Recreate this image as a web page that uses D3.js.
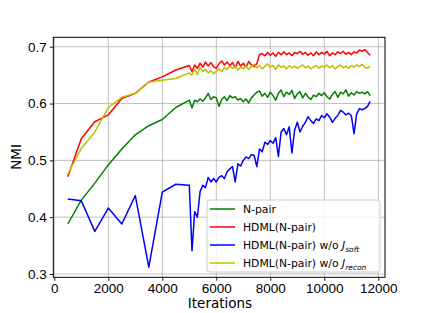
<!DOCTYPE html>
<html lang="en">
  <head>
    <meta charset="UTF-8" />
    <title>NMI vs Iterations</title>
    <style>
      body { margin: 0; background: #fff; }
      svg { font-family: 'DejaVu Sans', sans-serif; }
      .axis path { stroke: #000; stroke-width: 1; }
      .axis line { stroke: #000; stroke-width: 0.9; }
      .axis text { font-size: 13.5px; fill: #000; }
      .grid line { stroke: #b0b0b0; stroke-width: 0.8; }
    </style>
    <script src="https://d3js.org/d3.v7.min.js"></script>
  </head>
  <body>
    <svg width="428" height="313"></svg>
    <script>
      // iterations: every 500 up to 5000, then every 100
      var iterations = [500, 1000, 1500, 2000, 2500, 3000, 3500, 4000, 4500, 5000,
        5100, 5200, 5300, 5400, 5500, 5600, 5700, 5800, 5900, 6000,
        6100, 6200, 6300, 6400, 6500, 6600, 6700, 6800, 6900, 7000,
        7100, 7200, 7300, 7400, 7500, 7600, 7700, 7800, 7900, 8000,
        8100, 8200, 8300, 8400, 8500, 8600, 8700, 8800, 8900, 9000,
        9100, 9200, 9300, 9400, 9500, 9600, 9700, 9800, 9900, 10000,
        10100, 10200, 10300, 10400, 10500, 10600, 10700, 10800, 10900, 11000,
        11100, 11200, 11300, 11400, 11500, 11600, 11700]

      var npair = [0.388, 0.43, 0.46, 0.492, 0.52, 0.545, 0.561, 0.572, 0.593, 0.606,
        0.592, 0.606, 0.603, 0.608, 0.604, 0.61, 0.618, 0.607, 0.612, 0.61,
        0.595, 0.607, 0.612, 0.605, 0.614, 0.61, 0.612, 0.606, 0.609, 0.603,
        0.608, 0.601, 0.61, 0.615, 0.62, 0.622, 0.613, 0.618, 0.611, 0.62,
        0.614, 0.606, 0.618, 0.624, 0.612, 0.62, 0.616, 0.623, 0.609, 0.617,
        0.621, 0.61, 0.618, 0.612, 0.607, 0.615, 0.612, 0.618, 0.614, 0.619,
        0.612, 0.608, 0.616, 0.621, 0.611, 0.62, 0.617, 0.624, 0.613, 0.619,
        0.615, 0.621, 0.618, 0.62, 0.617, 0.621, 0.614]

      var hdml = [0.471, 0.538, 0.568, 0.58, 0.609, 0.618, 0.638, 0.647, 0.659, 0.667,
        0.656, 0.668, 0.662, 0.671, 0.664, 0.673, 0.666, 0.672, 0.665, 0.662,
        0.67, 0.675, 0.668, 0.673, 0.667, 0.672, 0.663, 0.674, 0.666, 0.671,
        0.664, 0.674, 0.668, 0.665, 0.67, 0.686, 0.688, 0.684, 0.69, 0.685,
        0.689, 0.683, 0.69, 0.686, 0.691, 0.686, 0.689, 0.684, 0.69, 0.688,
        0.692, 0.687, 0.69, 0.685, 0.689, 0.684, 0.691, 0.686, 0.69, 0.687,
        0.692, 0.684, 0.689, 0.686, 0.691, 0.688, 0.692, 0.687, 0.69, 0.686,
        0.691, 0.689, 0.694, 0.692, 0.695, 0.69, 0.685]

      var noSoft = [0.432, 0.429, 0.375, 0.416, 0.388, 0.438, 0.312, 0.444, 0.458, 0.456,
        0.341, 0.41, 0.4, 0.445, 0.456, 0.452, 0.47, 0.462, 0.468, 0.462,
        0.47, 0.473, 0.468, 0.48, 0.485, 0.489, 0.462, 0.494, 0.49, 0.5,
        0.506, 0.503, 0.51, 0.509, 0.489, 0.52, 0.515, 0.532, 0.528, 0.535,
        0.53, 0.54, 0.507, 0.55, 0.556, 0.545, 0.559, 0.513, 0.553, 0.567,
        0.55, 0.56, 0.567, 0.577, 0.57, 0.565, 0.573, 0.57, 0.579, 0.575,
        0.582, 0.576, 0.567, 0.574, 0.579, 0.588, 0.585, 0.58, 0.583, 0.579,
        0.547, 0.582, 0.591, 0.589, 0.591, 0.595, 0.604]

      var noRecon = [0.476, 0.521, 0.55, 0.593, 0.611, 0.618, 0.638, 0.641, 0.644, 0.654,
        0.65, 0.66, 0.651, 0.663, 0.657, 0.66, 0.654, 0.658, 0.652, 0.657,
        0.661, 0.656, 0.663, 0.66, 0.666, 0.662, 0.665, 0.659, 0.664, 0.661,
        0.666, 0.66, 0.665, 0.669, 0.663, 0.667, 0.661, 0.665, 0.67, 0.664,
        0.667, 0.66, 0.668, 0.664, 0.666, 0.661, 0.667, 0.663, 0.666, 0.662,
        0.665, 0.668, 0.663, 0.666, 0.661, 0.664, 0.667, 0.662, 0.666, 0.664,
        0.668, 0.663, 0.667, 0.661, 0.665, 0.668, 0.663, 0.666, 0.662, 0.667,
        0.664, 0.668, 0.665, 0.669, 0.664, 0.662, 0.666]

      var xTicks = [0, 2000, 4000, 6000, 8000, 10000, 12000]
      var yTicks = [0.3, 0.4, 0.5, 0.6, 0.7]

      var series = [
        { name: 'N-pair', values: npair, color: '#008000' },
        { name: 'HDML(N-pair)', values: hdml, color: '#ff0000' },
        { name: 'HDML(N-pair) w/o ', sub: 'soft', values: noSoft, color: '#0000ff' },
        { name: 'HDML(N-pair) w/o ', sub: 'recon', values: noRecon, color: '#bfbf00' }
      ]

      var svg = d3.select('svg')
      var x = d3.scaleLinear().domain([-37, 12248]).range([53.3, 385])
      var y = d3.scaleLinear().domain([0.2942, 0.7166]).range([277.3, 37.3])

      // grid
      svg.append('g').attr('class', 'grid')
        .selectAll('line.gx').data(xTicks).enter().append('line')
        .attr('x1', d => x(d)).attr('x2', d => x(d))
        .attr('y1', y.range()[0]).attr('y2', y.range()[1])
      svg.select('.grid')
        .selectAll('line.gy').data(yTicks).enter().append('line')
        .attr('x1', x.range()[0]).attr('x2', x.range()[1])
        .attr('y1', d => y(d)).attr('y2', d => y(d))

      // lines
      var line = d3.line()
        .x((d, i) => x(iterations[i]))
        .y(d => y(d))

      svg.append('g')
        .selectAll('path').data(series).enter().append('path')
        .attr('d', d => line(d.values))
        .attr('fill', 'none')
        .attr('stroke', d => d.color)
        .attr('stroke-width', 1.5)
        .attr('stroke-linejoin', 'round')

      // frame
      svg.append('rect')
        .attr('x', x.range()[0]).attr('y', y.range()[1])
        .attr('width', x.range()[1] - x.range()[0])
        .attr('height', y.range()[0] - y.range()[1])
        .attr('fill', 'none').attr('stroke', '#000').attr('stroke-width', 1)

      // axes
      svg.append('g').attr('class', 'axis')
        .attr('transform', `translate(0, ${y.range()[0]})`)
        .call(d3.axisBottom(x).tickValues(xTicks).tickFormat(d3.format('d')).tickSizeOuter(0).tickSize(3.5).tickPadding(3))
      svg.append('g').attr('class', 'axis')
        .attr('transform', `translate(${x.range()[0]}, 0)`)
        .call(d3.axisLeft(y).tickValues(yTicks).tickFormat(d3.format('.1f')).tickSizeOuter(0).tickSize(3.5).tickPadding(3))
      svg.selectAll('.axis .domain').remove()

      svg.append('text')
        .attr('x', 220).attr('y', 308)
        .attr('text-anchor', 'middle')
        .attr('font-size', 13.5)
        .text('Iterations')
      svg.append('text')
        .attr('transform', 'translate(21, 157) rotate(-90)')
        .attr('text-anchor', 'middle')
        .attr('font-size', 13.5)
        .text('NMI')

      // legend
      var lg = svg.append('g').attr('transform', 'translate(207, 200)')
      lg.append('rect')
        .attr('width', 173).attr('height', 72)
        .attr('rx', 3)
        .attr('fill', 'rgba(255,255,255,0.8)')
        .attr('stroke', '#cccccc').attr('stroke-width', 1)
      var item = lg.selectAll('g.item').data(series).enter().append('g')
        .attr('transform', (d, i) => `translate(0, ${9 + i * 18})`)
      item.append('line')
        .attr('x1', 3).attr('x2', 28)
        .attr('stroke', d => d.color).attr('stroke-width', 1.5)
      var t = item.append('text')
        .attr('x', 36).attr('y', 4)
        .attr('font-size', 10.8)
      t.append('tspan').text(d => d.name)
      t.filter(d => d.sub).append('tspan')
        .attr('font-style', 'italic').text('J')
      t.filter(d => d.sub).append('tspan')
        .attr('font-style', 'italic').attr('font-size', 7.5)
        .attr('dy', 2.5).text(d => d.sub)
    </script>
  </body>
</html>
